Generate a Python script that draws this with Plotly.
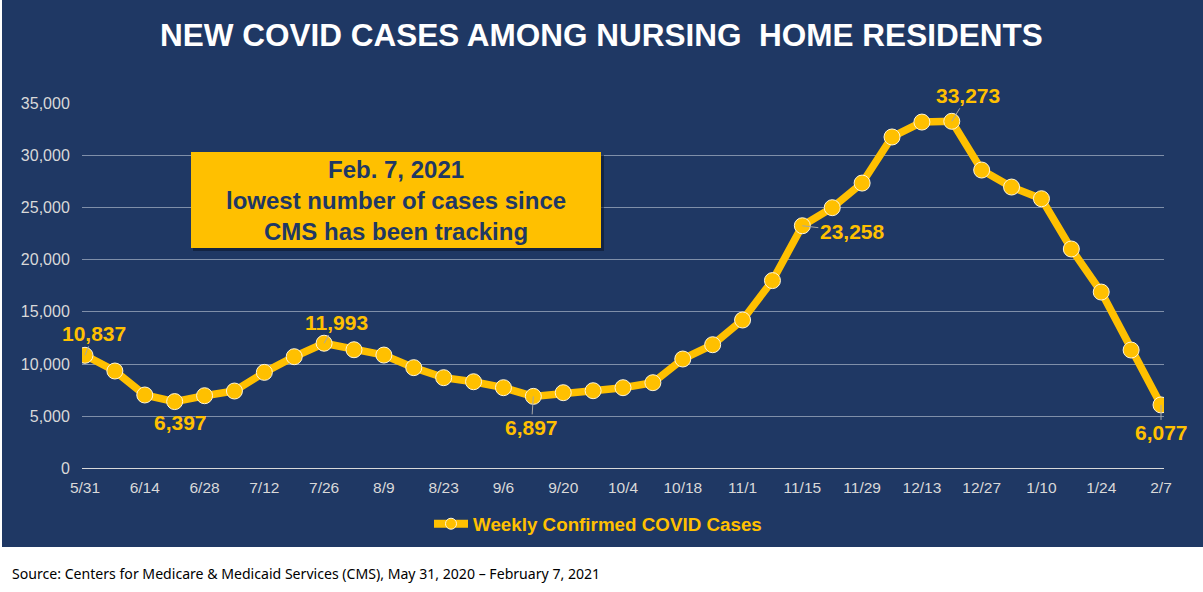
import plotly.graph_objects as go

W, H = 1203, 592
NAVY = "#1F3864"
GOLD = "#FFC000"

weeks = ["5/31", "6/7", "6/14", "6/21", "6/28", "7/5", "7/12", "7/19", "7/26", "8/2",
         "8/9", "8/16", "8/23", "8/30", "9/6", "9/13", "9/20", "9/27", "10/4", "10/11",
         "10/18", "10/25", "11/1", "11/8", "11/15", "11/22", "11/29", "12/6", "12/13", "12/20",
         "12/27", "1/3", "1/10", "1/17", "1/24", "1/31", "2/7"]
cases = [10837, 9330, 7030, 6397, 6960, 7410, 9200, 10700, 11993, 11370,
         10860, 9650, 8690, 8300, 7730, 6897, 7250, 7440, 7730, 8210,
         10480, 11850, 14220, 18000, 23258, 24990, 27350, 31770, 33200, 33273,
         28600, 26970, 25850, 21030, 16900, 11340, 6077]
tick_weeks = weeks[::2]
y_ticks = [0, 5000, 10000, 15000, 20000, 25000, 30000, 35000]

# week -> label offset in pixels from the point
callouts = {"5/31": (9, -22), "6/21": (6, 21), "7/26": (12, -21), "9/13": (-2, 31),
            "11/15": (50, 6), "12/20": (16, -26), "2/7": (0, 28)}


def px_x(v):
    return v / W


def px_y(v):
    return 1 - v / H


fig = go.Figure()
fig.add_trace(go.Scatter(
    x=weeks, y=cases, mode="lines+markers", showlegend=False,
    line=dict(color=GOLD, width=7.5),
    marker=dict(color=GOLD, size=16, line=dict(color="#FFF5D6", width=1)),
))
# legend entry only, its marker is smaller than the ones on the line
fig.add_trace(go.Scatter(
    x=[None], y=[None], mode="lines+markers", name="Weekly Confirmed COVID Cases",
    line=dict(color=GOLD, width=8),
    marker=dict(color=GOLD, size=11, line=dict(color="#FFF5D6", width=1)),
))

annotations = [
    dict(xref="x", yref="y", x=w, y=cases[weeks.index(w)], text=f"{cases[weeks.index(w)]:,}",
         showarrow=True, arrowhead=0, arrowwidth=1, arrowcolor="#A6A6A6",
         axref="pixel", ayref="pixel", ax=dx, ay=dy,
         font=dict(family="Liberation Sans", size=21, color=GOLD, weight="bold"))
    for w, (dx, dy) in callouts.items()
]
annotations += [
    dict(xref="paper", yref="paper", x=px_x(601), y=px_y(35), showarrow=False, xanchor="center",
         yanchor="middle", text="NEW COVID CASES AMONG NURSING  HOME RESIDENTS",
         font=dict(family="Liberation Sans", size=31.5, color="white", weight="bold")),
    dict(xref="paper", yref="paper", x=px_x(396), y=px_y(201), showarrow=False, xanchor="center",
         yanchor="middle", align="center",
         text="Feb. 7, 2021<br>lowest number of cases since<br>CMS has been tracking",
         font=dict(family="Liberation Sans", size=24, color=NAVY, weight="bold")),
    dict(xref="paper", yref="paper", x=px_x(9.5), y=px_y(573), showarrow=False, xanchor="left",
         yanchor="middle", text="Source: Centers for Medicare & Medicaid Services (CMS), May 31, 2020 – February 7, 2021",
         font=dict(family="Noto Sans", size=14.1, color="black")),
]

shapes = [
    dict(type="rect", xref="paper", yref="paper", layer="below", line_width=0, fillcolor=NAVY,
         x0=px_x(2), x1=1, y0=px_y(547), y1=1),
    dict(type="rect", xref="paper", yref="paper", layer="above", line_width=0,
         fillcolor="rgba(10,20,40,0.55)", x0=px_x(193), x1=px_x(604), y0=px_y(251), y1=px_y(155)),
    dict(type="rect", xref="paper", yref="paper", layer="above", line_width=0, fillcolor=GOLD,
         x0=px_x(191), x1=px_x(601), y0=px_y(248), y1=px_y(152)),
]

fig.update_layout(
    width=W, height=H, margin=dict(l=0, r=0, t=0, b=0, autoexpand=False),
    paper_bgcolor="white", plot_bgcolor="rgba(0,0,0,0)",
    font=dict(family="Liberation Sans"),
    annotations=annotations, shapes=shapes,
    showlegend=True,
    legend=dict(orientation="h", x=px_x(598), xanchor="center", y=px_y(524), yanchor="middle",
                bgcolor="rgba(0,0,0,0)", itemwidth=34,
                font=dict(family="Liberation Sans", size=18.8, color=GOLD, weight="bold")),
    xaxis=dict(domain=[px_x(82), px_x(1164)], range=[-0.1, 36.1], type="category",
               categoryorder="array", categoryarray=weeks,
               tickmode="array", tickvals=tick_weeks, ticktext=tick_weeks,
               showgrid=False, showline=False, ticks="outside", ticklen=5, tickcolor="rgba(0,0,0,0)",
               tickfont=dict(size=15.5, color="#D9D9D9")),
    yaxis=dict(domain=[px_y(468.3), px_y(103.3)], range=[0, 35000],
               tickmode="array", tickvals=y_ticks, tickformat=",",
               gridcolor="#7F8FA9", gridwidth=1, zeroline=True, zerolinecolor="#D9D9D9", zerolinewidth=1,
               showline=False, ticks="outside", ticklen=8, tickcolor="rgba(0,0,0,0)",
               tickfont=dict(size=16, color="#D9D9D9")),
)

# the default page keeps a body margin and scrollbars, pin the plot to the window corner
page_fix = """
document.documentElement.style.margin='0';
document.documentElement.style.overflow='hidden';
document.body.style.margin='0';
document.body.style.overflow='hidden';
var gd=document.querySelector('.plotly-graph-div');
gd.style.position='fixed';gd.style.left='0';gd.style.top='0';
"""
fig.write_html("out.html", config={"displayModeBar": False}, post_script=page_fix)
